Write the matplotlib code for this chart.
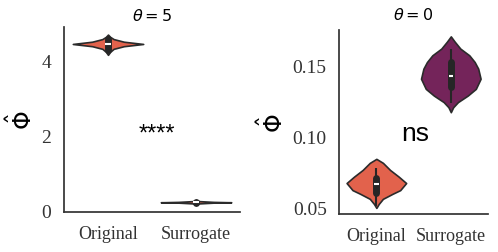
import matplotlib
matplotlib.use("Agg")
import matplotlib.pyplot as plt
import numpy as np

# ---------------------------------------------------------------
# data (violin outlines + inner boxes)
# ---------------------------------------------------------------
categories = ["Original", "Surrogate"]

# theta = 5 panel
t5_orig_y = [4.14, 4.22, 4.30, 4.37, 4.43, 4.49, 4.56, 4.62, 4.68]
t5_orig_w = [0.00, 0.06, 0.16, 0.45, 1.00, 0.45, 0.16, 0.06, 0.00]
t5_surr_y = [0.15, 0.18, 0.20, 0.21, 0.22, 0.24, 0.27]
t5_surr_w = [0.00, 0.10, 0.50, 1.00, 0.50, 0.10, 0.00]
t5_box = [  # whisker lo, q1, median, q3, whisker hi
    [4.18, 4.28, 4.43, 4.55, 4.63],
    [0.19, 0.20, 0.21, 0.22, 0.23],
]

# theta = 0 panel
t0_orig_y = [0.0500, 0.0528, 0.0564, 0.0600, 0.0625, 0.0675, 0.0720, 0.0767, 0.0817, 0.0845]
t0_orig_w = [0.00, 0.08, 0.22, 0.55, 0.80, 1.00, 0.75, 0.46, 0.22, 0.00]
t0_surr_y = [0.1173, 0.1208, 0.1244, 0.1290, 0.1337, 0.1408, 0.1479, 0.1526, 0.1573, 0.1620, 0.1669, 0.1706]
t0_surr_w = [0.00, 0.08, 0.24, 0.57, 0.84, 1.00, 0.92, 0.80, 0.62, 0.32, 0.13, 0.00]
t0_box = [
    [0.0514, 0.0604, 0.0668, 0.0709, 0.0780],
    [0.1240, 0.1349, 0.1427, 0.1526, 0.1620],
]

orange = "#e2624c"
purple = "#74245a"
edge = "#2b2b2b"

plt.rcParams["font.family"] = ["Liberation Serif", "DejaVu Serif"]
plt.rcParams["mathtext.fontset"] = "dejavusans"

fig = plt.figure(figsize=(4.98, 2.53), dpi=100)
ax1 = fig.add_axes([0.1285, 0.158, 0.3535, 0.731])
ax2 = fig.add_axes([0.681, 0.150, 0.299, 0.727])


def draw_violins(ax, profiles, boxes, colors):
    stats = []
    for ys, ws, b in zip(profiles[0::2], profiles[1::2], boxes):
        stats.append(dict(coords=np.array(ys), vals=np.array(ws),
                          mean=b[2], median=b[2], min=ys[0], max=ys[-1]))
    parts = ax.violin(stats, positions=[0, 1], widths=0.8,
                      showmeans=False, showextrema=False, showmedians=False)
    for body, c in zip(parts["bodies"], colors):
        body.set_facecolor(c)
        body.set_edgecolor(edge)
        body.set_linewidth(1.2)
        body.set_alpha(1)
    for i, b in enumerate(boxes):
        ax.vlines(i, b[0], b[4], color="#262626", lw=1.5, zorder=3)
        ax.plot([i, i], [b[1], b[3]], color="#262626", lw=5,
                solid_capstyle="round", zorder=4)
        ax.hlines(b[2], i - 0.03, i + 0.03, color="white", lw=1.5, zorder=5)


draw_violins(ax1, [t5_orig_y, t5_orig_w, t5_surr_y, t5_surr_w], t5_box, [orange, orange])
draw_violins(ax2, [t0_orig_y, t0_orig_w, t0_surr_y, t0_surr_w], t0_box, [orange, purple])

ax1.set_ylim(-0.05, 4.88)
ax1.set_yticks([0, 2, 4])
ax2.set_ylim(0.0457, 0.175)
ax2.set_yticks([0.05, 0.10, 0.15])
ax2.set_yticklabels(["0.05", "0.10", "0.15"])

for ax, title, tpad in [(ax1, r"$\theta = 5$", 5), (ax2, r"$\theta = 0$", 8)]:
    ax.set_xlim(-0.5, 1.5)
    ax.set_xticks([0, 1])
    ax.set_xticklabels(categories)
    ax.tick_params(axis="both", length=0, pad=9, colors="#333333")
    ax.tick_params(axis="x", labelsize=13)
    ax.tick_params(axis="y", labelsize=14)
    for s in ["top", "right"]:
        ax.spines[s].set_visible(False)
    for s in ["left", "bottom"]:
        ax.spines[s].set_color("#333333")
        ax.spines[s].set_linewidth(1.25)
    ax.set_title(title, fontsize=11.5, pad=tpad)
    ax.set_ylabel(r"$\hat{\Phi}$", fontsize=17, labelpad=3)

ax1.text(0.55, 2.05, "****", ha="center", va="center", fontsize=17,
         family="Liberation Sans")
ax2.text(0.52, 0.1025, "ns", ha="center", va="center", fontsize=19,
         family="Liberation Sans")

fig.savefig("out.png", dpi=100)
